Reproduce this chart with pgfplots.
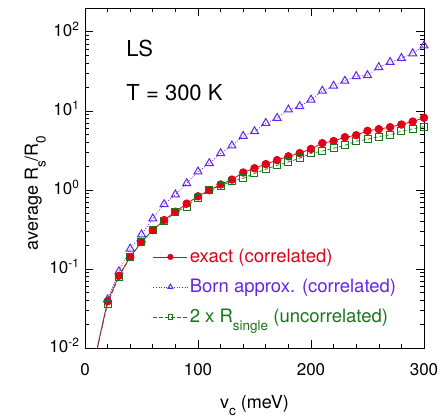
\documentclass[border=0pt]{standalone}
\usepackage{pgfplots}
\pgfplotsset{compat=1.18}
\usepackage{fontspec}
\setmainfont{TeX Gyre Heros}
\definecolor{cred}{RGB}{224,0,24}
\definecolor{cblue}{RGB}{100,36,235}
\definecolor{cgreen}{RGB}{24,118,24}
\newcommand{\lsub}[1]{\raisebox{-0.42em}{\fontsize{13.5}{14}\selectfont #1}}
\pgfplotsset{myleg/.style={legend image code/.code={\draw[##1, mark repeat=2, mark phase=2, mark size=#1] plot coordinates {(0pt,0pt)(17pt,0pt)(34pt,0pt)};}}}
\pgfplotstableread{
v exact born unc
20 0.039 0.041 0.036
30 0.082 0.093 0.080
40 0.142 0.18 0.14
50 0.22 0.273 0.22
60 0.31 0.433 0.31
70 0.415 0.658 0.40
80 0.53 0.873 0.52
90 0.67 1.21 0.615
100 0.83 1.70 0.80
110 0.99 2.17 1.0
120 1.17 2.9 1.13
130 1.35 3.63 1.28
140 1.66 4.8 1.40
150 1.88 5.5 1.62
160 2.12 7.0 1.82
170 2.38 8.1 2.05
180 2.66 10.35 2.25
190 2.92 11.4 2.51
200 3.3 13.8 2.9
210 3.9 17.9 3.1
220 4.15 20.7 3.36
230 4.64 23.9 3.67
240 4.92 27.4 4.13
250 5.58 28.2 4.38
260 5.87 35.6 4.73
270 6.22 41.3 4.97
280 6.71 46.4 5.53
290 7.33 53.2 5.92
300 8.17 66.7 6.3
}\datatab
\pgfplotstableread{
v exact born unc
10 0.0088 0.0090 0.0087
20 0.039 0.041 0.036
}\lowtab
\begin{document}
\begin{tikzpicture}
\begin{axis}[
  scale only axis, width=339pt, height=340pt,
  xmin=0, xmax=300, ymin=0.01, ymax=200,
  ymode=log,
  xtick={0,100,200,300}, xticklabels={0,100,200,300},
  minor x tick num=4,
  yticklabel={\pgfmathparse{int(round(\tick/ln(10)))}10\textsuperscript{\pgfmathresult}},
  major tick length=8pt, minor tick length=4pt,
  tick style={black, line width=0.6pt},
  axis line style={line width=0.8pt},
  ticklabel style={font=\fontsize{17}{20}\selectfont},
  xticklabel style={anchor=base, yshift=-27pt},
  yticklabel style={anchor=base east, yshift=-4.5pt, xshift=-2pt},
  xlabel={v\lsub{c} (meV)},
  ylabel={average R\lsub{s}/R\lsub{0}},
  label style={font=\fontsize{18}{21}\selectfont},
  xlabel style={at={(axis description cs:0.5,0)}, anchor=base, yshift=-60pt},
  ylabel style={at={(axis description cs:0,0.456)}, anchor=base, rotate=0, yshift=47pt},
  legend style={at={(0.2,0.063)}, anchor=south west, draw=none, fill=none,
    font=\fontsize{18.5}{21}\selectfont, row sep=11pt, inner sep=0pt},
  legend cell align=left,
]
\addplot[cred, solid, line width=0.8pt, forget plot] table[x=v, y=exact] {\lowtab};
\addplot[cblue, dash pattern=on 1pt off 1.6pt, line width=0.7pt, forget plot] table[x=v, y=born] {\lowtab};
\addplot[cgreen, dash pattern=on 3.5pt off 2.5pt, line width=0.7pt, forget plot] table[x=v, y=unc] {\lowtab};
\addplot[cred, solid, line width=0.8pt, mark=*, mark size=3.8pt, mark options={solid, fill=cred}, myleg=2.6pt]
  table[x=v, y=exact] {\datatab};
\addlegendentry{\textcolor{cred}{exact (correlated)}}
\addplot[cblue, dash pattern=on 1pt off 1.6pt, mark=triangle, mark size=4.6pt, mark options={solid, line width=1pt}, line width=0.7pt, myleg=2.8pt]
  table[x=v, y=born] {\datatab};
\addlegendentry{\textcolor{cblue}{Born approx. (correlated)}}
\addplot[cgreen, dash pattern=on 3.5pt off 2.5pt, mark=square, mark size=3.5pt, mark options={solid, line width=1pt}, line width=0.7pt, myleg=2.2pt]
  table[x=v, y=unc] {\datatab};
\addlegendentry{\textcolor{cgreen}{2 x R\lsub{single} (uncorrelated)}}
\node[anchor=base west, font=\fontsize{22}{26}\selectfont] at (rel axis cs:0.112,0.857) {LS};
\node[anchor=base west, font=\fontsize{22}{26}\selectfont] at (rel axis cs:0.112,0.729) {T = 300 K};
\end{axis}
\path (current axis.south west) ++(-85pt,-70pt) coordinate (bl);
\path (current axis.north east) ++(20pt,8pt) coordinate (tr);
\path[use as bounding box] (bl) rectangle (tr);
\end{tikzpicture}
\end{document}
